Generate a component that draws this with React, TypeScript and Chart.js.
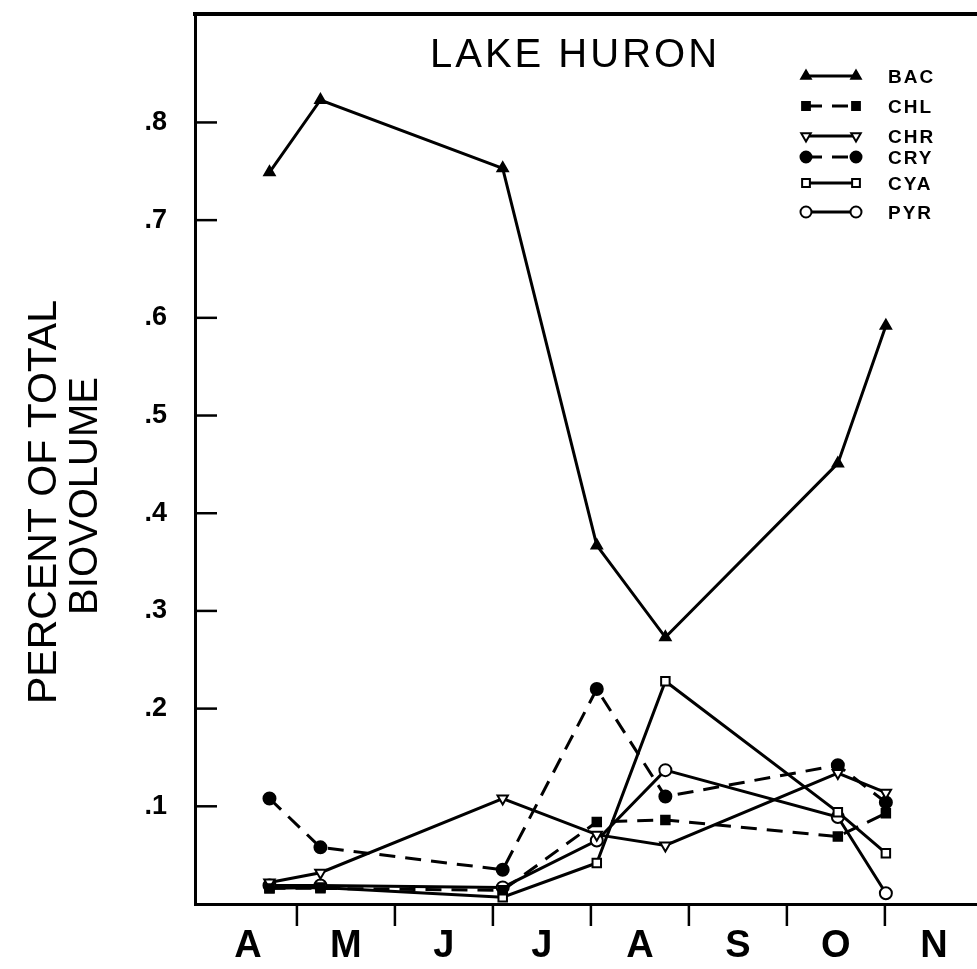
import React, { useEffect, useRef } from 'react';
import { Chart, registerables } from 'chart.js';
import { drawPoint } from 'chart.js/helpers';

Chart.register(...registerables);

// x values are in months, 0 = 1 April, 1 = 1 May, ...
const monthLabels = ['A', 'M', 'J', 'J', 'A', 'S', 'O', 'N'];
const sampleDates = [0.72, 1.24, 3.1, 4.06, 4.76, 6.52, 7.01];
const yTickValues = [0.1, 0.2, 0.3, 0.4, 0.5, 0.6, 0.7, 0.8];

const seriesNames = ['BAC', 'CHL', 'CHR', 'CRY', 'CYA', 'PYR'];
const BAC = [0.749, 0.823, 0.753, 0.367, 0.273, 0.451, 0.592];
const CHL = [0.016, 0.016, 0.014, 0.084, 0.086, 0.069, 0.093];
const CHR = [0.022, 0.032, 0.108, 0.071, 0.06, 0.134, 0.114];
const CRY = [0.108, 0.058, 0.035, 0.22, 0.11, 0.142, 0.104];
const CYA = [0.016, 0.017, 0.007, 0.042, 0.228, 0.094, 0.052];
const PYR = [0.019, 0.019, 0.017, 0.065, 0.137, 0.089, 0.011];

const seriesValues = [BAC, CHL, CHR, CRY, CYA, PYR];

const styles = [
  { pointStyle: 'triangle', rotation: 0, fill: '#000', dash: [] as number[] },
  { pointStyle: 'rect', rotation: 0, fill: '#000', dash: [16, 10] },
  { pointStyle: 'triangle', rotation: 180, fill: '#fff', dash: [] as number[] },
  { pointStyle: 'circle', rotation: 0, fill: '#000', dash: [16, 10] },
  { pointStyle: 'rect', rotation: 0, fill: '#fff', dash: [] as number[] },
  { pointStyle: 'circle', rotation: 0, fill: '#fff', dash: [] as number[] },
];

const FONT = '"Liberation Sans", Arial, sans-serif';

const decorPlugin = {
  id: 'decor',
  afterDraw(chart: any) {
    const ctx = chart.ctx;
    const { left, top, bottom } = chart.chartArea;
    const xs = chart.scales.x;
    const ys = chart.scales.y;
    ctx.save();
    ctx.strokeStyle = '#000';
    ctx.fillStyle = '#000';
    // top frame line
    ctx.lineWidth = 4;
    ctx.beginPath();
    ctx.moveTo(left - 2, top);
    ctx.lineTo(chart.width, top);
    ctx.stroke();
    // y tick marks (inward)
    ctx.lineWidth = 2.5;
    yTickValues.forEach((v) => {
      const y = ys.getPixelForValue(v);
      ctx.beginPath();
      ctx.moveTo(left, y);
      ctx.lineTo(left + 22, y);
      ctx.stroke();
    });
    // x tick marks at month boundaries (outward)
    for (let m = 1; m < monthLabels.length; m++) {
      const x = xs.getPixelForValue(m);
      ctx.beginPath();
      ctx.moveTo(x, bottom);
      ctx.lineTo(x, bottom + 22);
      ctx.stroke();
    }
    // title
    ctx.font = `40px ${FONT}`;
    (ctx as any).letterSpacing = '3px';
    ctx.textAlign = 'center';
    ctx.textBaseline = 'middle';
    ctx.fillText('LAKE HURON', 575, 56);
    (ctx as any).letterSpacing = '0px';
    // y axis title
    ctx.save();
    ctx.translate(45, 502);
    ctx.rotate(-Math.PI / 2);
    ctx.font = `41px ${FONT}`;
    ctx.fillText('PERCENT OF TOTAL', 0, 0);
    ctx.restore();
    ctx.save();
    ctx.translate(86, 496);
    ctx.rotate(-Math.PI / 2);
    ctx.font = `40px ${FONT}`;
    ctx.fillText('BIOVOLUME', 0, 0);
    ctx.restore();
    // legend
    const rows = [76, 106, 136, 157, 183, 212];
    chart.data.datasets.forEach((ds: any, i: number) => {
      const y = rows[i];
      ctx.save();
      ctx.lineWidth = 3;
      ctx.setLineDash(styles[i].dash);
      ctx.beginPath();
      ctx.moveTo(806, y);
      ctx.lineTo(856, y);
      ctx.stroke();
      ctx.restore();
      [806, 856].forEach((px) => {
        ctx.save();
        ctx.fillStyle = styles[i].fill;
        ctx.strokeStyle = '#000';
        ctx.lineWidth = 2;
        drawPoint(ctx, { pointStyle: styles[i].pointStyle, rotation: styles[i].rotation, radius: 5.5, borderWidth: 2 }, px, y);
        ctx.restore();
      });
      ctx.font = `bold 19px ${FONT}`;
      (ctx as any).letterSpacing = '2px';
      ctx.textAlign = 'left';
      ctx.textBaseline = 'middle';
      ctx.fillText(ds.label, 888, y + 2);
      (ctx as any).letterSpacing = '0px';
    });
    ctx.restore();
  },
};

export default function App() {
  const ref = useRef<HTMLCanvasElement>(null);
  useEffect(() => {
    if (!ref.current) return;
    const datasets = seriesNames.map((name, i) => ({
      label: name,
      data: sampleDates.map((d, j) => ({ x: d, y: seriesValues[i][j] })),
      borderColor: '#000',
      borderWidth: 3,
      borderDash: styles[i].dash,
      pointStyle: styles[i].pointStyle,
      pointRotation: styles[i].rotation,
      pointRadius: 6,
      pointBorderWidth: 2,
      pointBackgroundColor: styles[i].fill,
      pointBorderColor: '#000',
      tension: 0,
      fill: false,
    }));
    const chart = new Chart(ref.current, {
      type: 'line',
      data: { datasets },
      options: {
        animation: false,
        responsive: false,
        maintainAspectRatio: false,
        layout: { autoPadding: false, padding: { top: 14, right: 0, left: 0, bottom: 0 } },
        plugins: { legend: { display: false }, tooltip: { enabled: false }, title: { display: false } },
        scales: {
          x: {
            type: 'linear',
            min: -0.04,
            max: 7.94,
            grid: { display: false, drawTicks: false },
            border: { display: true, color: '#000', width: 3 },
            afterBuildTicks: (s: any) => {
              s.ticks = monthLabels.map((_, i) => ({ value: i + 0.5 }));
            },
            afterFit: (s: any) => {
              s.height = 65;
              s.paddingLeft = 0;
              s.paddingRight = 0;
              s.paddingTop = 0;
              s.paddingBottom = 0;
            },
            ticks: {
              autoSkip: false,
              maxRotation: 0,
              padding: 20,
              color: '#000',
              font: { family: FONT, size: 38, weight: 'bold' },
              callback: (v: any) => monthLabels[Math.floor(Number(v))] ?? '',
            },
          },
          y: {
            type: 'linear',
            min: 0,
            max: 0.911,
            grid: { display: false, drawTicks: false },
            border: { display: true, color: '#000', width: 3 },
            afterBuildTicks: (s: any) => {
              s.ticks = yTickValues.map((v) => ({ value: v }));
            },
            afterFit: (s: any) => {
              s.width = 195;
              s.paddingLeft = 0;
              s.paddingRight = 0;
              s.paddingTop = 0;
              s.paddingBottom = 0;
            },
            ticks: {
              padding: 28,
              color: '#000',
              font: { family: FONT, size: 27, weight: 'bold' },
              callback: (v: any) => '.' + Math.round(Number(v) * 10),
            },
          },
        },
      },
      plugins: [decorPlugin],
    });
    return () => chart.destroy();
  }, []);
  return (
    <div style={{ position: 'fixed', left: 0, top: 0, width: 977, height: 969, background: '#fff' }}>
      <canvas ref={ref} width={977} height={969} style={{ width: 977, height: 969, display: 'block' }} />
    </div>
  );
}
